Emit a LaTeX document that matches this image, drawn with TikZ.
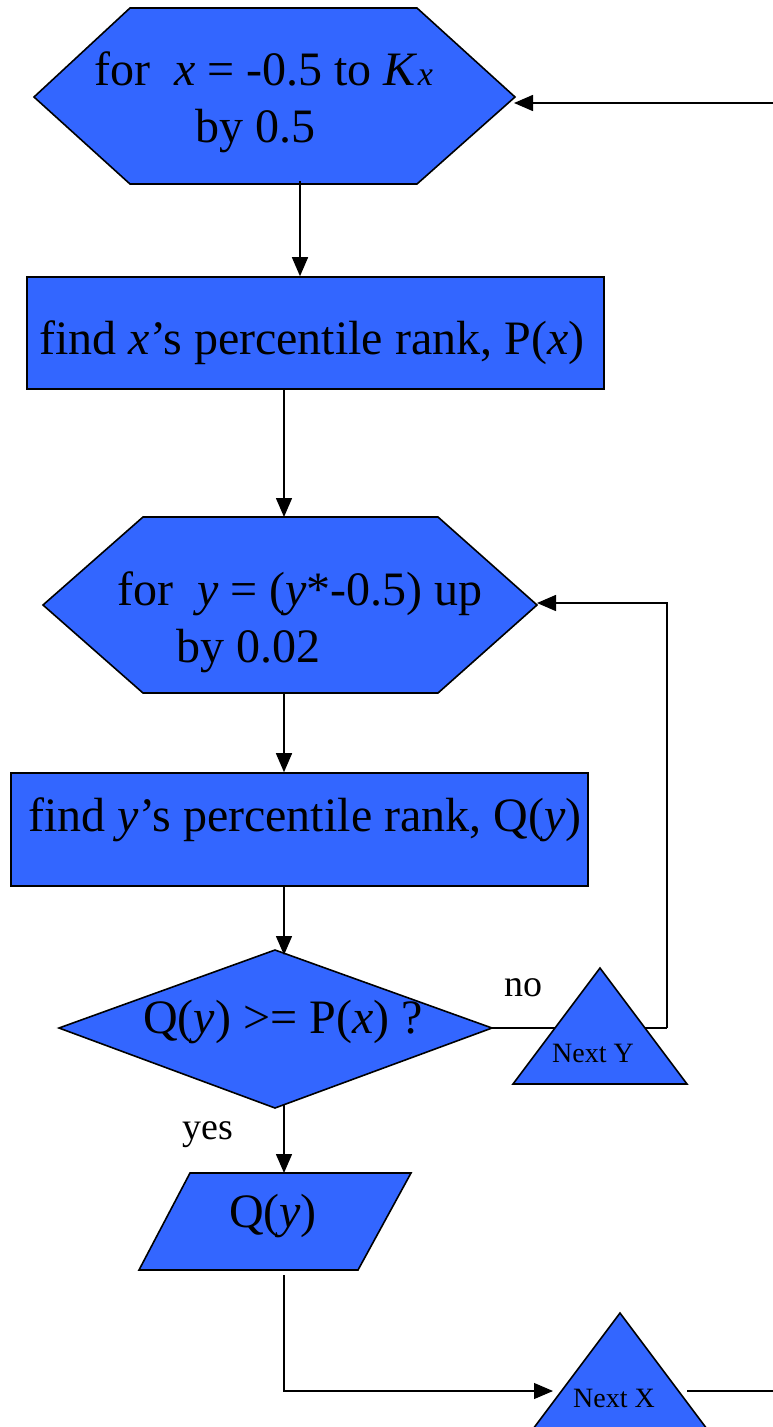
\documentclass[tikz,border=0pt]{standalone}
\usepackage{fontspec}
\setmainfont{Liberation Serif}
\usetikzlibrary{arrows.meta, positioning}
\definecolor{flowblue}{HTML}{3366FF}
\newcommand{\flowfont}{\fontsize{48}{57}\selectfont}
\newcommand{\lblfont}{\fontsize{38}{40}\selectfont}
\newcommand{\nextfont}{\fontsize{28}{30}\selectfont}

\begin{document}
\begin{tikzpicture}[x=1pt, y=-1pt,
    shp/.style={draw, fill=flowblue, line width=1.6pt},
    box/.style={rectangle, draw, fill=flowblue, line width=1.6pt, inner sep=0pt},
    txt/.style={font=\flowfont, align=left, inner sep=0pt},
    lbl/.style={font=\lblfont, inner sep=0pt},
    nexttxt/.style={font=\nextfont, inner sep=0pt},
    arrow/.style={-{Triangle[length=19pt,width=16pt]}, line width=1.5pt},
    line/.style={line width=1.5pt}
]
    \useasboundingbox (0,0) rectangle (773,1427);

    % Loop over x
    \draw[shp] (34,97) -- (130,8) -- (417,8) -- (515,97) -- (417,184) -- (130,184) -- cycle;
    \node[txt, anchor=west] (forx) at (94,102) {for\ \ \textit{x} = -0.5 to \textit{K}{\fontsize{34}{34}\selectfont\textit{x}}\\\hspace*{101pt}by 0.5};
    \coordinate (forxin) at (514,103);
    \coordinate (forxout) at (300,181);

    % Rank of x
    \node[box, minimum width=577pt, minimum height=112pt] (rankx) at (315.5,333) {};
    \node[txt] (rankxtxt) at (312,343) {find \textit{x}’s percentile rank, P(\textit{x})};

    % Loop over y
    \draw[shp] (43,605) -- (143,517) -- (438,517) -- (537,605) -- (438,693) -- (143,693) -- cycle;
    \node[txt, anchor=west] (fory) at (117,622) {for\ \ \textit{y} = (\textit{y}*-0.5) up\\\hspace*{59pt}by 0.02};
    \coordinate (foryin) at (537,603);
    \coordinate (foryt) at (284,517);
    \coordinate (foryb) at (284,693);

    % Rank of y
    \node[box, minimum width=577pt, minimum height=113pt] (ranky) at (299.5,829.5) {};
    \node[txt] (rankytxt) at (305,820) {find \textit{y}’s percentile rank, Q(\textit{y})};

    % Test
    \draw[shp] (59,1028) -- (275,950) -- (492,1028) -- (275,1108) -- cycle;
    \node[txt] (test) at (283,1022) {Q(\textit{y}) >= P(\textit{x}) ?};
    \coordinate (testt) at (284,955);
    \coordinate (testb) at (284,1105);
    \coordinate (testr) at (492,1028);
    \coordinate (bendy) at (667,1028);
    \coordinate (bendyt) at (667,603);

    % Output
    \draw[shp] (139,1270) -- (190,1173) -- (411,1173) -- (358,1270) -- cycle;
    \node[txt] (out) at (273,1216) {Q(\textit{y})};
    \node[lbl] (yes) at (208,1135) {yes};
    \node[lbl] (no) at (523,988) {no};
    \coordinate (outt) at (284,1173);
    \coordinate (outb) at (284,1275);
    \coordinate (bendx) at (284,1391);

    % Next X
    \draw[shp] (620,1313) -- (707,1429) -- (533,1429) -- cycle;
    \node[nexttxt] (nextx) at (614,1398) {Next X};
    \coordinate (nextxin) at (553,1391);
    \coordinate (nextxout) at (687,1391);
    \coordinate (edgeb) at (773,1391);
    \coordinate (edget) at (773,103);

    % Arrows
    \draw[arrow] (edget) -- (forxin);
    \draw[arrow] (forxout) -- (rankx.north -| forxout);
    \draw[arrow] (rankx.south -| foryt) -- (foryt);
    \draw[arrow] (foryb) -- (ranky.north -| foryb);
    \draw[arrow] (ranky.south -| testt) -- (testt);
    \draw[arrow] (testb) -- (outt);
    \draw[line] (testr) -- (bendy);
    \draw[arrow] (bendy) -- (bendyt) -- (foryin);
    \draw[arrow, line width=1.2pt] (outb) -- (bendx) -- (nextxin);
    \draw[line, line width=1.2pt] (nextxout) -- (edgeb);

    % Next Y, drawn over the no-branch line
    \draw[shp] (600,968) -- (687,1084) -- (513,1084) -- cycle;
    \node[nexttxt] (nexty) at (593,1053) {Next Y};
\end{tikzpicture}
\end{document}
